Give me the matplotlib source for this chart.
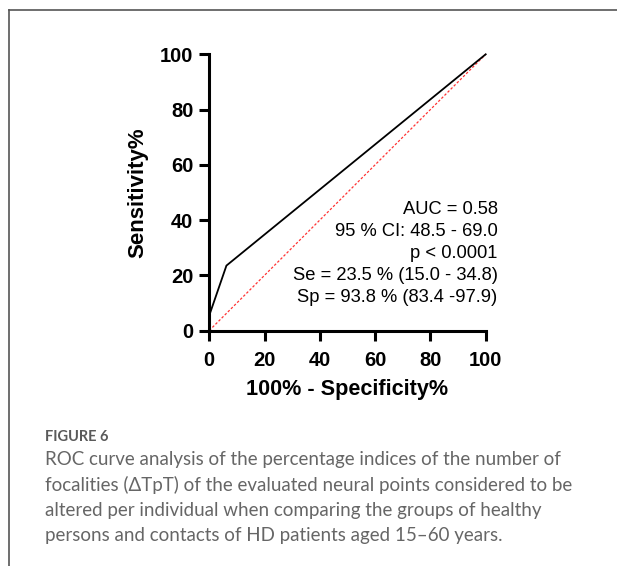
import matplotlib
matplotlib.use("Agg")
import matplotlib.pyplot as plt
from matplotlib.lines import Line2D

# Data
fpr = [0, 0, 6.2, 100]          # 100% - Specificity%
tpr = [0, 5.5, 23.5, 100]       # Sensitivity%
ref_x = [0, 100]
ref_y = [0, 100]
ticks = [0, 20, 40, 60, 80, 100]
stats_lines = ["AUC = 0.58", "95 % CI: 48.5 - 69.0", "p < 0.0001",
               "Se = 23.5 % (15.0 - 34.8)", "Sp = 93.8 % (83.4 -97.9)"]
caption_lines = ["ROC curve analysis of the percentage indices of the number of",
                 "focalities (\u0394TpT) of the evaluated neural points considered to be",
                 "altered per individual when comparing the groups of healthy",
                 "persons and contacts of HD patients aged 15\u201360 years."]

W, H = 617, 566
fig = plt.figure(figsize=(W/100, H/100), dpi=100)

ax = fig.add_axes([209.3/W, 1-330.5/H, (485.7-209.3)/W, (330.5-54.3)/H])
ax.plot(fpr, tpr, color="black", lw=1.3, solid_joinstyle="miter", clip_on=False, zorder=3)
ax.plot(ref_x, ref_y, color="#ff3333", lw=0.9, ls=(0, (2, 1.5)), clip_on=False, zorder=2)
ax.set_xlim(0, 100)
ax.set_ylim(0, 100)
ax.set_xticks(ticks)
ax.set_yticks(ticks)
for s in ["top", "right"]:
    ax.spines[s].set_visible(False)
for s in ["left", "bottom"]:
    ax.spines[s].set_linewidth(2.2)
    ax.spines[s].set_capstyle("projecting")
ax.tick_params(direction="out", length=7.5, width=2.2)
ax.tick_params(axis="x", pad=7)
ax.tick_params(axis="y", pad=4)
for lab in ax.get_xticklabels() + ax.get_yticklabels():
    lab.set_fontfamily("Liberation Sans")
    lab.set_fontweight("bold")
    lab.set_fontsize(14.5)
ax.set_xlabel("100% - Specificity%", fontfamily="Liberation Sans", fontweight="bold",
              fontsize=15.6)
ax.xaxis.set_label_coords(0.5, -(390 - 330.5) / (330.5 - 54.3), transform=ax.transAxes)
ax.xaxis.label.set_va("center")
ax.set_ylabel("Sensitivity%", fontfamily="Liberation Sans", fontweight="bold",
              fontsize=16)
ax.yaxis.set_label_coords(-(209.3 - 138) / (485.7 - 209.3), 0.5, transform=ax.transAxes)
ax.yaxis.label.set_va("center")

y0 = 209
for i, t in enumerate(stats_lines):
    fig.text(497.7/W, 1-(y0+22*i)/H, t, ha="right", va="center",
             fontfamily="Liberation Sans", fontsize=13.2, color="black")

# caption
fig.text(45/W, 1-437/H, "FIGURE 6", ha="left", va="center", fontfamily="Lato",
         fontsize=10.5, fontweight="bold", color="#5a5a5a")
for i, t in enumerate(caption_lines):
    fig.text(45/W, 1-(459.5+25.3*i)/H, t, ha="left", va="center", fontfamily="Lato",
             fontsize=13.5, color="#666666")

# frame lines
fig.add_artist(Line2D([9/W, 9/W], [0, 1-10/H], color="#555555", lw=1.2))
fig.add_artist(Line2D([9/W, 1], [1-10/H, 1-10/H], color="#555555", lw=1.2))

fig.savefig("out.png", dpi=100)
